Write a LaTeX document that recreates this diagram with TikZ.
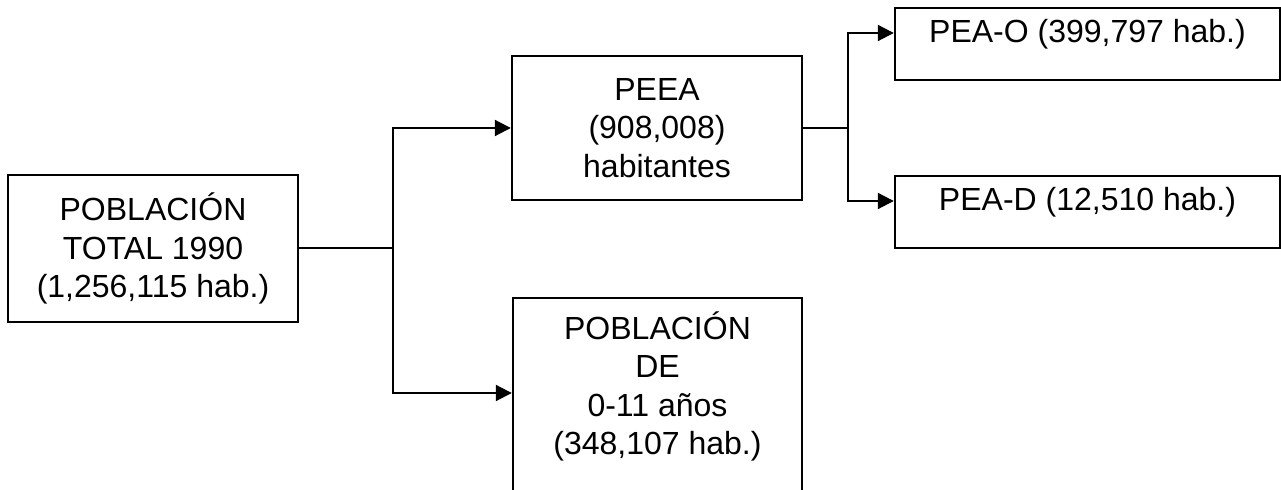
\documentclass[tikz,border=0pt]{standalone}
\usepackage{fontspec}
\setmainfont{Liberation Sans}
\usetikzlibrary{arrows.meta}

\tikzset{
  caja/.style={draw, line width=1.2pt, inner sep=0pt, align=center,
    font=\fontsize{16}{19.25}\selectfont},
  texto/.style={inner sep=0pt, align=center, font=\fontsize{16}{19.25}\selectfont},
  linea/.style={line width=1pt},
  flecha/.style={line width=1pt, -{Triangle[length=8pt,width=8pt]}}
}

\begin{document}
\begin{tikzpicture}[x=0.5pt,y=-0.5pt]
          \useasboundingbox (0,0) rectangle (1281,490);

          \node[caja, minimum width=145pt, minimum height=73.5pt] (total) at (153,248.5)
            {POBLACIÓN\\TOTAL 1990\\(1,256,115 hab.)};
          \node[caja, minimum width=145pt, minimum height=72pt] (peea) at (657,128)
            {PEEA\\(908,008)\\habitantes};
          \node[caja, minimum width=144.5pt, minimum height=120pt, anchor=north] (ninos) at (657.5,297) {};
          \node[texto, anchor=north] (ninostxt) at ([yshift=-7pt]ninos.north)
            {POBLACIÓN\\DE\\0-11 años\\(348,107 hab.)};

          \node[caja, minimum width=192.5pt, text height=17.4pt, text depth=18.6pt] (peao) at (1087.5,44)
            {PEA-O (399,797 hab.)};
          \node[caja, minimum width=192.5pt, text height=17.4pt, text depth=18.6pt] (pead) at (1087.5,212)
            {PEA-D (12,510 hab.)};

          % ramas
          \coordinate (nudo1) at (393,248.5);
          \coordinate (nudo2) at (848,128);
          \draw[linea] (total.east) -- (nudo1);
          \draw[flecha] (nudo1) |- (peea.west);
          \draw[flecha] (nudo1) |- ([yshift=-48pt]ninos.north west);
          \draw[linea] (peea.east) -- (nudo2);
          \draw[flecha] (nudo2) |- ([yshift=5.5pt]peao.west);
          \draw[flecha] (nudo2) |- ([yshift=5.5pt]pead.west);
        \end{tikzpicture}
\end{document}
